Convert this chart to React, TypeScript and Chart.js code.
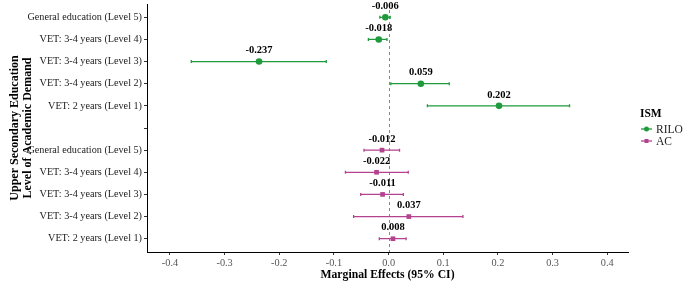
import React, { useEffect, useRef } from "react";
import { Chart, registerables } from "chart.js";

Chart.register(...registerables);

// Category labels (top to bottom); index 5 is the blank spacer row
const categories = [
  "General education (Level 5)",
  "VET: 3-4 years (Level 4)",
  "VET: 3-4 years (Level 3)",
  "VET: 3-4 years (Level 2)",
  "VET: 2 years (Level 1)",
  "",
  "General education (Level 5)",
  "VET: 3-4 years (Level 4)",
  "VET: 3-4 years (Level 3)",
  "VET: 3-4 years (Level 2)",
  "VET: 2 years (Level 1)",
];

const riloRows = [0, 1, 2, 3, 4];
const riloEst = [-0.006, -0.018, -0.237, 0.059, 0.202];
const riloLow = [-0.016, -0.037, -0.361, 0.004, 0.071];
const riloHigh = [0.003, -0.003, -0.114, 0.111, 0.331];

const acRows = [6, 7, 8, 9, 10];
const acEst = [-0.012, -0.022, -0.011, 0.037, 0.008];
const acLow = [-0.045, -0.079, -0.051, -0.064, -0.017];
const acHigh = [0.02, 0.036, 0.027, 0.136, 0.032];

const xTicks = [-0.4, -0.3, -0.2, -0.1, 0, 0.1, 0.2, 0.3, 0.4];
const yTicks = [0, 1, 2, 3, 4, 5, 6, 7, 8, 9, 10];

const GREEN = "#1f9a3d";
const PINK = "#b5428e";
const FONT = "'Liberation Serif', 'Times New Roman', serif";

const seriesMeta = [
  { name: "RILO", color: GREEN, rows: riloRows, est: riloEst, low: riloLow, high: riloHigh },
  { name: "AC", color: PINK, rows: acRows, est: acEst, low: acLow, high: acHigh },
];

const overlayPlugin = {
  id: "overlay",
  beforeDatasetsDraw(chart: any) {
    const { ctx, chartArea, scales } = chart;
    const x = scales.x;
    const y = scales.y;
    ctx.save();
    ctx.strokeStyle = "#888";
    ctx.lineWidth = 1;
    ctx.setLineDash([3, 3]);
    const x0 = Math.round(x.getPixelForValue(0)) + 0.5;
    ctx.beginPath();
    ctx.moveTo(x0, chartArea.top);
    ctx.lineTo(x0, chartArea.bottom);
    ctx.stroke();
    ctx.setLineDash([]);
    seriesMeta.forEach((s) => {
      ctx.strokeStyle = s.color;
      ctx.lineWidth = 1.3;
      s.rows.forEach((r, i) => {
        const py = y.getPixelForValue(r);
        const xl = x.getPixelForValue(s.low[i]);
        const xh = x.getPixelForValue(s.high[i]);
        ctx.beginPath();
        ctx.moveTo(xl, py);
        ctx.lineTo(xh, py);
        ctx.moveTo(xl, py - 1.5);
        ctx.lineTo(xl, py + 1.5);
        ctx.moveTo(xh, py - 1.5);
        ctx.lineTo(xh, py + 1.5);
        ctx.stroke();
      });
    });
    ctx.restore();
  },
  afterDatasetsDraw(chart: any) {
    const { ctx, scales } = chart;
    const x = scales.x;
    const y = scales.y;
    ctx.save();
    ctx.font = `bold 10.5px ${FONT}`;
    ctx.fillStyle = "#000";
    ctx.textAlign = "center";
    ctx.textBaseline = "middle";
    seriesMeta.forEach((s) => {
      s.rows.forEach((r, i) => {
        const px = x.getPixelForValue(s.est[i]);
        const py = y.getPixelForValue(r);
        ctx.fillText(s.est[i].toFixed(3), px, py - 11);
      });
    });
    ctx.textAlign = "left";
    ctx.font = `bold 11.5px ${FONT}`;
    ctx.fillText("ISM", 640, 114);
    ctx.font = `11.5px ${FONT}`;
    seriesMeta.forEach((s, k) => {
      const ly = 129 + k * 12;
      ctx.strokeStyle = s.color;
      ctx.fillStyle = s.color;
      ctx.lineWidth = 1.3;
      ctx.beginPath();
      ctx.moveTo(641, ly);
      ctx.lineTo(652, ly);
      ctx.stroke();
      if (k === 0) {
        ctx.beginPath();
        ctx.arc(646.5, ly, 2.5, 0, Math.PI * 2);
        ctx.fill();
      } else {
        ctx.fillRect(644.5, ly - 2, 4, 4);
      }
      ctx.fillStyle = "#222";
      ctx.fillText(s.name, 656, ly + 0.5);
    });
    ctx.restore();
  },
};

export default function App() {
  const ref = useRef<HTMLCanvasElement | null>(null);

  useEffect(() => {
    if (!ref.current) return;
    const chart = new Chart(ref.current, {
      type: "scatter",
      data: {
        datasets: [
          {
            label: "RILO",
            data: riloRows.map((r, i) => ({ x: riloEst[i], y: r })),
            backgroundColor: GREEN,
            borderColor: GREEN,
            pointStyle: "circle",
            pointRadius: 3.3,
            borderWidth: 0,
          },
          {
            label: "AC",
            data: acRows.map((r, i) => ({ x: acEst[i], y: r })),
            backgroundColor: PINK,
            borderColor: PINK,
            pointStyle: "rect",
            pointRadius: 3.3,
            borderWidth: 0,
          },
        ],
      },
      options: {
        responsive: false,
        animation: false,
        layout: { padding: { left: 0, right: 57, top: 3, bottom: 0 } },
        plugins: {
          legend: { display: false },
          tooltip: { enabled: false },
        },
        scales: {
          x: {
            type: "linear",
            min: -0.442,
            max: 0.438,
            afterBuildTicks: (scale: any) => {
              scale.ticks = xTicks.map((v) => ({ value: v }));
            },
            afterFit: (scale: any) => {
              scale.height = 30;
              scale.paddingLeft = 0;
              scale.paddingRight = 0;
            },
            grid: {
              drawOnChartArea: false,
              drawTicks: true,
              tickLength: 3,
              color: "#333",
            },
            border: { display: true, color: "#000", width: 1 },
            ticks: {
              padding: 2,
              color: "#555",
              font: { family: FONT, size: 10.3 },
              callback: (v: any) => Number(v).toFixed(1),
            },
            title: {
              display: true,
              text: "Marginal Effects (95% CI)",
              color: "#000",
              font: { family: FONT, size: 11.7, weight: "bold", lineHeight: 1 },
              padding: { top: 0, bottom: 1 },
            },
          },
          y: {
            type: "linear",
            reverse: true,
            min: -0.6,
            max: 10.6,
            afterBuildTicks: (scale: any) => {
              scale.ticks = yTicks.map((v) => ({ value: v }));
            },
            afterFit: (scale: any) => {
              scale.width = 147;
              scale.paddingTop = 0;
              scale.paddingBottom = 0;
            },
            grid: {
              drawOnChartArea: false,
              drawTicks: true,
              tickLength: 3,
              color: "#333",
            },
            border: { display: true, color: "#000", width: 1 },
            ticks: {
              padding: 2,
              color: "#222",
              autoSkip: false,
              font: { family: FONT, size: 10.2 },
              callback: (v: any) => categories[Number(v)] ?? "",
            },
            title: {
              display: true,
              text: ["Upper Secondary Education", "Level of Academic Demand"],
              color: "#000",
              font: { family: FONT, size: 12, weight: "bold", lineHeight: 1.05 },
              padding: { top: 9, bottom: 0 },
            },
          },
        },
      },
      plugins: [overlayPlugin],
    });
    return () => chart.destroy();
  }, []);

  return (
    <div style={{ position: "absolute", left: 0, top: 0, width: 685, height: 282, background: "#fff" }}>
      <canvas ref={ref} width={685} height={282} />
    </div>
  );
}
